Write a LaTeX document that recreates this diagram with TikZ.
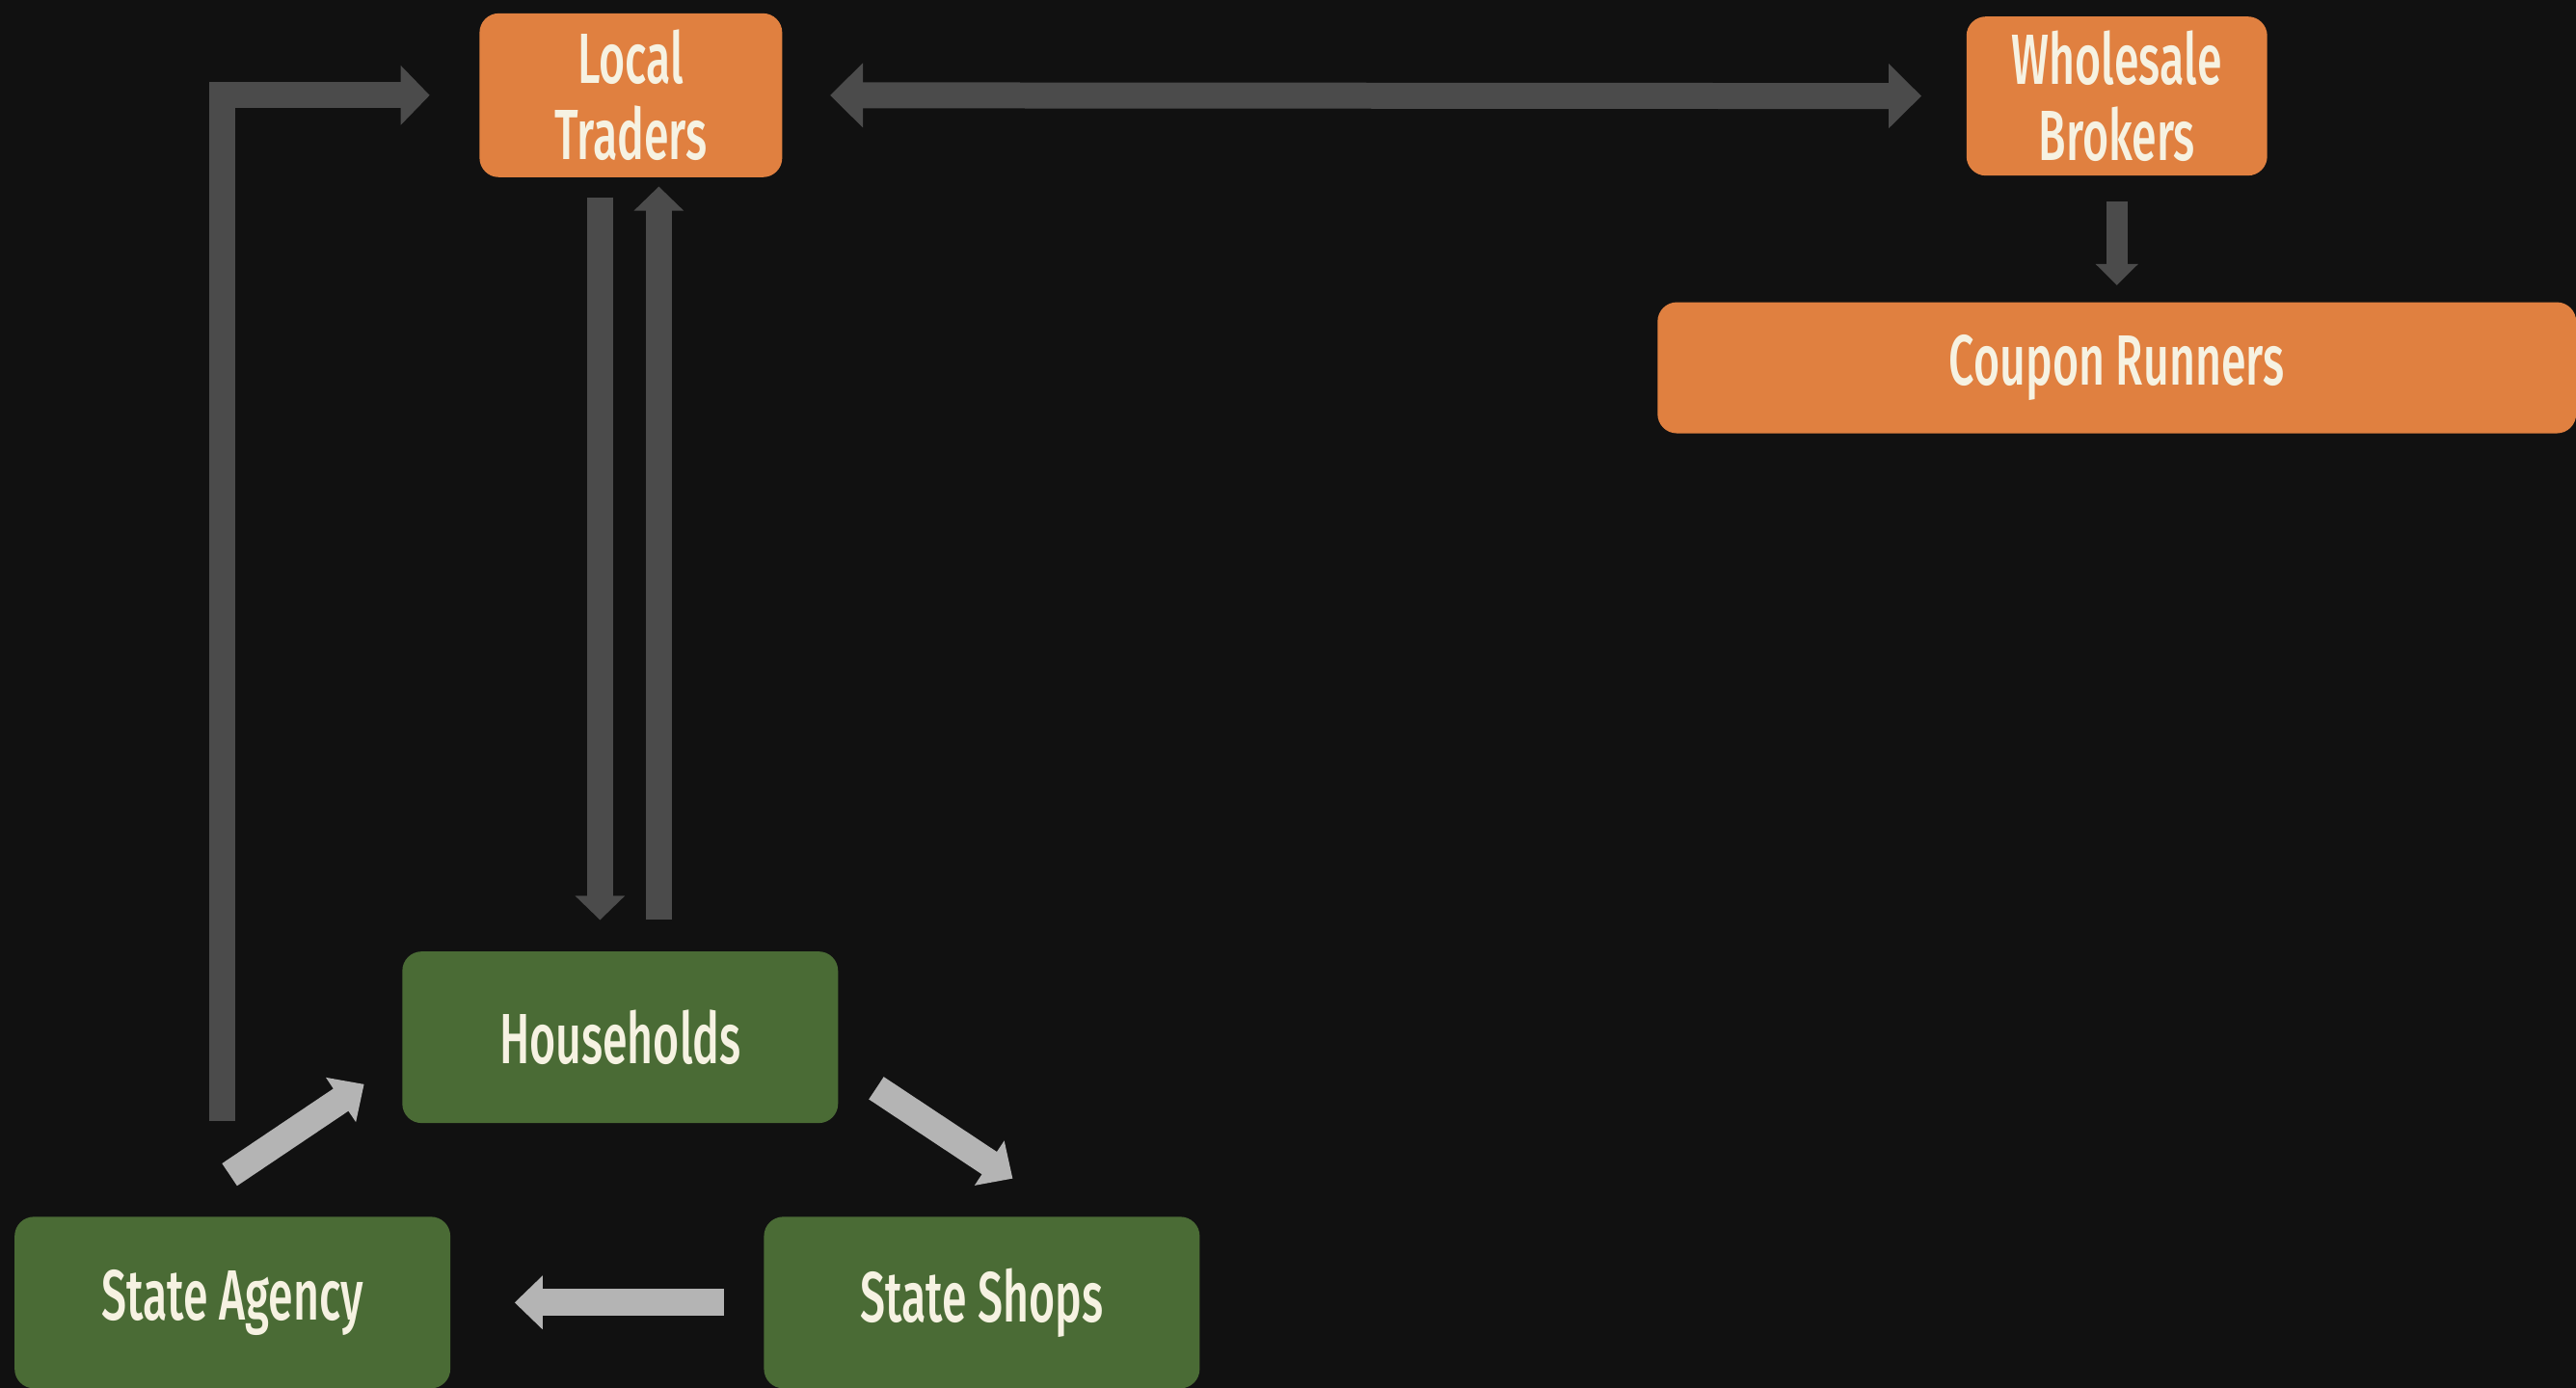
\documentclass[tikz,border=0pt]{standalone}
\usepackage{fontspec}
\setmainfont{Fira Sans}[UprightFont=* Medium, FakeStretch=0.63]
\usepackage{xcolor}
\definecolor{colorBg}{HTML}{111111}
\definecolor{colorTrader}{HTML}{E08040}
\definecolor{colorState}{HTML}{4A6B35}
\definecolor{colorLabel}{HTML}{F6F2E2}
\definecolor{colorFlow}{HTML}{4B4B4B}
\definecolor{colorGoods}{HTML}{B4B4B4}
\usepackage{tikz}
\usetikzlibrary{arrows.meta, positioning}
\tikzset{
  box/.style={rounded corners=0.2cm, text=colorLabel, align=center, inner sep=0pt, font=\fontsize{21}{22.5}\selectfont},
  trader/.style={box, fill=colorTrader},
  agent/.style={box, fill=colorState, minimum width=4.52cm, minimum height=1.78cm},
  flow/.style={draw=colorFlow, line width=0.27cm, -{Triangle[width=0.6cm, length=0.3cm]}},
  goods/.style={draw=colorGoods, line width=0.28cm, -{Triangle[width=0.54cm, length=0.29cm]}}
}

\begin{document}
\begin{tikzpicture}[x=0.01704cm, y=-0.01704cm]
\path[use as bounding box, fill=colorBg] (0,0) rectangle (1568,845);
\node[trader, minimum width=3.14cm, minimum height=1.70cm] (lt) at (384,58) {Local\\Traders};
\node[trader, minimum width=3.12cm, minimum height=1.65cm] (wb) at (1288.5,58.5) {Wholesale\\Brokers};
\node[trader, minimum width=9.53cm, minimum height=1.36cm, below=1.30cm of wb] (cr) {Coupon Runners};
\node[agent] (hh) at (377.5,631.5) {Households};
\node[agent] (sa) at (141.5,793) {State Agency};
\node[agent, right=3.24cm of sa] (ss) {State Shops};
\draw[flow, shorten <=0.99cm, shorten >=0.51cm] ([xshift=-0.11cm]sa.north) |- (lt.west);
\draw[flow, {Triangle[width=0.65cm, length=0.34cm]}-{Triangle[width=0.65cm, length=0.34cm]}, shorten <=0.49cm, shorten >=0.46cm] (lt.east) -- (wb.west);
\draw[flow, -{Triangle[width=0.5cm, length=0.25cm]}, shorten <=0.2cm, shorten >=0.32cm] ([xshift=-0.32cm]lt.south) -- ([xshift=-0.32cm]lt.south |- hh.north);
\draw[flow, -{Triangle[width=0.5cm, length=0.25cm]}, shorten <=0.32cm, shorten >=0.09cm] ([xshift=0.29cm]lt.south |- hh.north) -- ([xshift=0.29cm]lt.south);
\draw[flow, line width=0.22cm, -{Triangle[width=0.43cm, length=0.22cm]}, shorten <=0.26cm, shorten >=0.17cm] (wb.south) -- (wb.south |- cr.north);
\draw[goods] ([shift={(-0.03cm,0.43cm)}]sa.north) -- ([shift={(-0.39cm,0.41cm)}]hh.south west);
\draw[goods] ([shift={(0.39cm,0.37cm)}]hh.south east) -- ([shift={(0.32cm,0.39cm)}]ss.north);
\draw[goods, shorten <=0.41cm, shorten >=0.66cm] (ss.west) -- (sa.east);
\end{tikzpicture}
\end{document}
